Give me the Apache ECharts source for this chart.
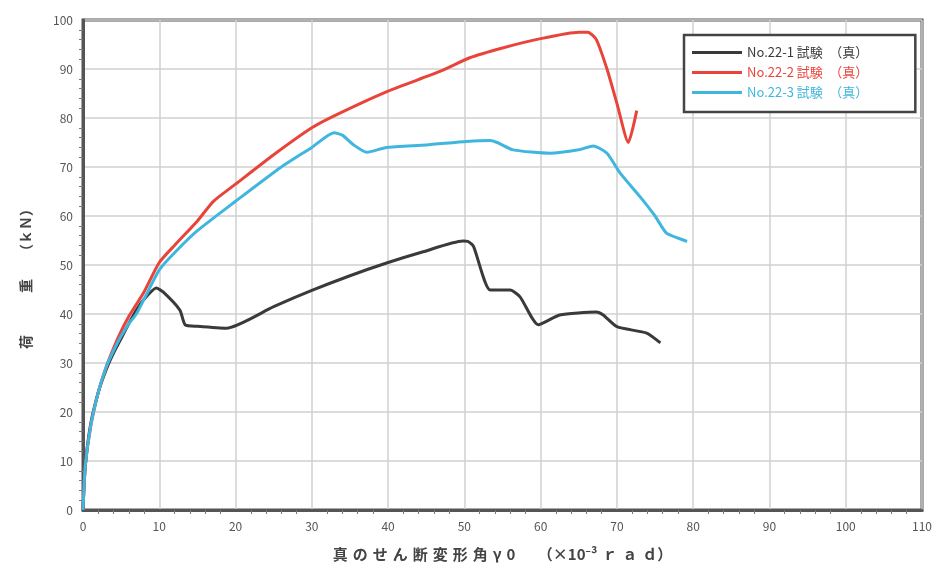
<!DOCTYPE html>
<html><head><meta charset="utf-8">
<script src="https://cdn.jsdelivr.net/npm/echarts@6/dist/echarts.min.js"></script>
<style>html,body{margin:0;padding:0;background:#fff}#c{width:944px;height:576px}</style>
</head><body><div id="c"></div>
<script>
const seriesNames = ['No.22-1 試験　（真）', 'No.22-2 試験　（真）', 'No.22-3 試験　（真）'];
const xTicks = [0,10,20,30,40,50,60,70,80,90,100,110];
const yTicks = [0,10,20,30,40,50,60,70,80,90,100];
const s1 = [[0,0],[0.3,9],[1,17.5],[2,24],[3,28.5],[4,32],[5,35],[6,38],[7,40.8],[8,43],[9.6,45.3],[10.5,44.5],[12.7,40.8],[13.4,37.8],[15,37.5],[18.8,37.1],[25,41.5],[30,44.8],[35,47.8],[39.8,50.4],[44.6,52.7],[49.8,54.9],[50.5,54.8],[51.2,53.8],[53.4,44.9],[56,44.9],[57.3,43.5],[59.7,37.8],[62.5,39.8],[67.3,40.4],[68.2,39.8],[70,37.4],[73.9,36.1],[75.7,34.1]];
const s2 = [[0,0],[0.3,9],[1,17],[2,24],[3,29],[4,33],[5,36.5],[6,39.5],[7,42],[8,44.5],[10,50.5],[12,54],[15,59],[17.1,63],[20,66.5],[25,72.5],[30,78],[33,80.5],[40,85.5],[46.8,89.5],[50.7,92.3],[55,94.3],[60,96.2],[65,97.5],[66.2,97.5],[67.3,96],[68.7,90],[70,83],[71.5,75],[72.6,81.5]];
const s3 = [[0,0],[0.3,9],[1,17],[2,24],[3,29],[4,32.5],[5,35.5],[6,38],[7,40],[8,43],[10,49],[12,52.5],[15,57],[20,63],[26,70],[30,74],[32.9,77],[34,76.5],[35.5,74.5],[37.2,73],[39.8,74],[45,74.5],[50.3,75.2],[53.4,75.4],[54.3,75],[56.4,73.5],[61.2,72.8],[65,73.5],[66.9,74.3],[68.7,72.8],[70.4,68.8],[73,64],[75,60],[76.5,56.5],[78.7,55.1],[79.2,54.8]];
const colors = ['#3a3a3a', '#e8443a', '#3fb6de'];
const datas = [s1, s2, s3];

const sp = '\u2004';
const xName = '真のせん断変形角γ0'.split('').join(sp) + '\u3000\u3000（×10⁻³' + sp + 'ｒ' + sp + 'ａ' + sp + 'ｄ）';
const yName = '荷　　　重　　（ｋＮ）　　';

const chart = echarts.init(document.getElementById('c'));
const axisLine = {show: true, lineStyle: {color: '#555', width: 3}};
chart.setOption({
  animation: false,
  textStyle: {fontFamily: '"Noto Sans CJK JP", "Noto Sans", sans-serif'},
  grid: {left: 83, right: 22, top: 20, bottom: 66, show: true, borderColor: '#555', borderWidth: 3},
  legend: {
    orient: 'vertical', left: 684, top: 35,
    backgroundColor: '#fff', borderColor: '#444', borderWidth: 2.5,
    padding: [11, 47, 13, 8], itemWidth: 50, itemHeight: 3, itemGap: 7, icon: 'rect',
    data: seriesNames.map((n, i) => ({name: n, textStyle: {color: colors[i]}})),
    textStyle: {fontSize: 13}
  },
  xAxis: {
    type: 'value', min: xTicks[0], max: xTicks[xTicks.length-1], interval: 10,
    axisLine: axisLine,
    axisTick: {show: false},
    minorTick: {show: true, splitNumber: 5, length: 4, lineStyle: {color: '#777'}},
    axisLabel: {color: '#555', fontSize: 12, margin: 10},
    splitLine: {show: true, lineStyle: {color: '#d0d0d0', width: 1.5}},
    name: xName, nameLocation: 'middle', nameGap: 37,
    nameTextStyle: {color: '#444', fontSize: 15, fontWeight: 'bold'}
  },
  yAxis: {
    type: 'value', min: yTicks[0], max: yTicks[yTicks.length-1], interval: 10,
    axisLine: axisLine,
    axisTick: {show: false},
    minorTick: {show: true, splitNumber: 5, length: 4, lineStyle: {color: '#777'}},
    axisLabel: {color: '#555', fontSize: 12, margin: 10},
    splitLine: {show: true, lineStyle: {color: '#d0d0d0', width: 1.5}},
    name: yName, nameLocation: 'middle', nameGap: 50,
    nameTextStyle: {color: '#444', fontSize: 14, fontWeight: 'bold'}
  },
  series: datas.map((d, i) => ({
    name: seriesNames[i], type: 'line', data: d, showSymbol: false, symbol: 'none', smooth: 0.2,
    lineStyle: {color: colors[i], width: 3}, itemStyle: {color: colors[i]}
  }))
});
</script></body></html>
